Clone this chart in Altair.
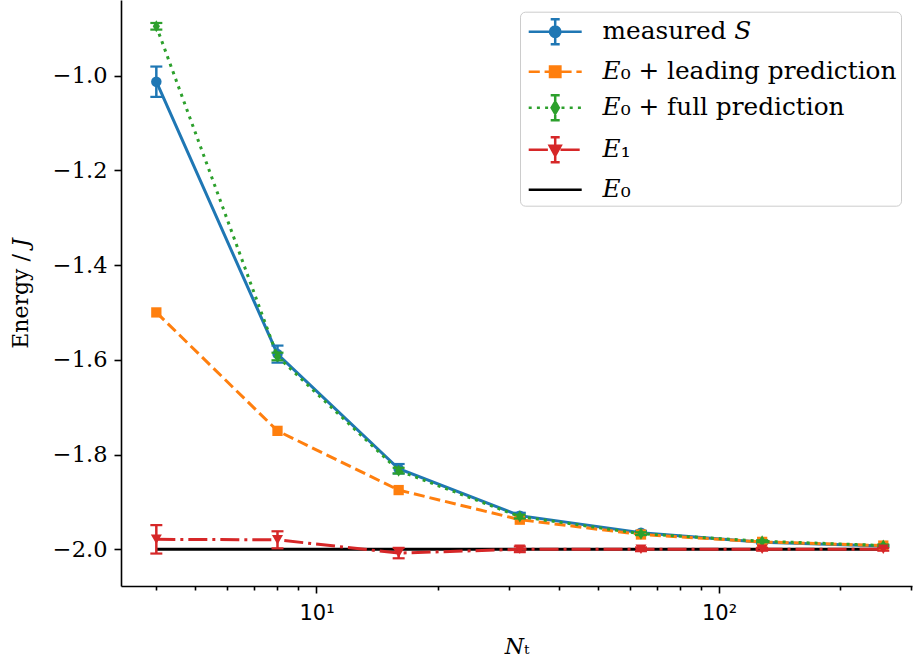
import altair as alt
import pandas as pd

# ---- data -------------------------------------------------------------
N_T = [4, 8, 16, 32, 64, 128, 256]

LABELS = ["measured 𝑆", "𝐸₀ + leading prediction", "𝐸₀ + full prediction", "𝐸₁", "𝐸₀"]
COLORS = ["#1f77b4", "#ff7f0e", "#2ca02c", "#d62728", "#000000"]

MEASURED_S = [-1.013, -1.588, -1.830, -1.929, -1.965, -1.985, -1.993]
MEASURED_S_ERR = [0.032, 0.018, 0.010, 0.006, 0.004, 0.003, 0.002]
LEADING = [-1.5, -1.75, -1.875, -1.9375, -1.96875, -1.984375, -1.9921875]
FULL = [-0.896, -1.593, -1.834, -1.931, -1.967, -1.983, -1.992]
FULL_ERR = [0.007, 0.008, 0.006, 0.004, 0.003, 0.002, 0.002]
E1 = [-1.979, -1.980, -2.008, -2.000, -2.000, -2.000, -2.000]
E1_ERR = [0.030, 0.018, 0.011, 0.006, 0.004, 0.003, 0.003]
E0_N = [4, 256]
E0_LEVEL = [-2.0, -2.0]


def frame(values, errs=None):
    d = pd.DataFrame({"N": N_T, "E": values})
    d["err"] = errs if errs is not None else 0.0
    d["lo"] = d["E"] - d["err"]
    d["hi"] = d["E"] + d["err"]
    return d


# ---- scales & axes ----------------------------------------------------
x_scale = alt.Scale(type="log", domain=[3.268, 301.7], nice=False)
y_scale = alt.Scale(domain=[-2.0775, -0.8405], nice=False, zero=False)

x_axis = alt.Axis(
    values=[4, 5, 6, 7, 8, 9, 10, 20, 30, 40, 50, 60, 70, 80, 90, 100, 200, 300],
    labelExpr="datum.value == 10 ? '10¹' : datum.value == 100 ? '10²' : ''",
    tickSize={"condition": {"test": "datum.value == 10 || datum.value == 100", "value": 7}, "value": 4},
    labelFont="DejaVu Sans", labelFontSize=21, labelPadding=9, labelOverlap=False,
    title="𝑁ₜ", titleFont="DejaVu Serif", titleFontSize=22, titleFontWeight="normal",
    titlePadding=13, grid=False,
)
y_axis = alt.Axis(
    values=[-2.0, -1.8, -1.6, -1.4, -1.2, -1.0],
    labelExpr="replace(format(datum.value, '.1f'), '-', '\u2212')",
    tickSize=7, labelFont="DejaVu Serif", labelFontSize=22.5, labelPadding=7,
    title="Energy / 𝐽", titleFont="DejaVu Serif", titleFontSize=22, titleFontWeight="normal",
    titlePadding=20, grid=False,
)


def xy(yfield="E"):
    return dict(
        x=alt.X("N:Q", scale=x_scale, axis=x_axis),
        y=alt.Y(f"{yfield}:Q", scale=y_scale, axis=y_axis),
    )


def series_layers(d, color, dash, shape, size, with_err):
    base = alt.Chart(d)
    out = []
    if with_err:
        out.append(base.mark_rule(color=color, strokeWidth=2.5).encode(
            x=alt.X("N:Q", scale=x_scale, axis=x_axis),
            y=alt.Y("lo:Q", scale=y_scale, axis=y_axis), y2="hi:Q"))
        for f in ("lo", "hi"):
            out.append(base.mark_tick(orient="horizontal", color=color, size=12, thickness=2.2,
                                      opacity=1).encode(**xy(f)))
    line_kw = dict(color=color, strokeWidth=3)
    if dash:
        line_kw["strokeDash"] = dash
    out.append(base.mark_line(**line_kw).encode(**xy()))
    out.append(base.mark_point(shape=shape, size=size, filled=True, color=color,
                               opacity=1).encode(**xy()))
    return out


THIN_DIAMOND = "M0,-1L0.6,0L0,1L-0.6,0Z"

layers = []
# E0 reference level
layers.append(alt.Chart(pd.DataFrame({"N": E0_N, "E": E0_LEVEL}))
              .mark_line(color="#000000", strokeWidth=3).encode(**xy()))
layers += series_layers(frame(MEASURED_S, MEASURED_S_ERR), COLORS[0], None, "circle", 110, True)
layers += series_layers(frame(LEADING), COLORS[1], [11, 5], "square", 106, False)
layers += series_layers(frame(FULL, FULL_ERR), COLORS[2], [3, 5], THIN_DIAMOND, 144, True)
layers += series_layers(frame(E1, E1_ERR), COLORS[3], [19, 5, 3, 5], "triangle-down", 121, True)

# ---- legend symbols (line + errorbar + marker drawn as one path) -------
U = 14.55     # px per symbol unit
HALF = 26.5   # half length of the legend line in px


def px(v):
    return f"{v / U:.3f}"


def seg(x0, x1):
    return f"M{px(x0 - HALF)},0H{px(x1 - HALF)}"


def pattern(pieces):
    return "".join(seg(a, b) for a, b in pieces)


def errbar(h=12.5, c=4.5):
    return f"M0,{px(-h)}V{px(h)}M{px(-c)},{px(-h)}H{px(c)}M{px(-c)},{px(h)}H{px(c)}"


def circle(r=5.2):
    return f"M{px(-r)},0A{px(r)},{px(r)} 0 1,0 {px(r)},0A{px(r)},{px(r)} 0 1,0 {px(-r)},0Z"


def square(a=5.2):
    return f"M{px(-a)},{px(-a)}H{px(a)}V{px(a)}H{px(-a)}Z"


def diamond(h=6.0, w=3.6):
    return f"M0,{px(-h)}L{px(w)},0L0,{px(h)}L{px(-w)},0Z"


def tri_down(w=5.5, h=5.0):
    return f"M{px(-w)},{px(-0.8 * h)}L{px(w)},{px(-0.8 * h)}L0,{px(1.2 * h)}Z"


SYMBOLS = [
    seg(0, 53) + errbar() + circle(),
    pattern([(0, 11.1), (15.9, 27), (31.8, 42.9), (47.7, 53)]) + square(),
    pattern([(i * 8.2, i * 8.2 + 3) for i in range(7)]) + errbar() + diamond(),
    pattern([(0, 19.2), (24, 27), (31.8, 51)]) + errbar() + tri_down(),
    seg(0, 53),
]

legend = alt.Legend(
    title=None, orient="none", legendX=399, legendY=11.7,
    fillColor="rgba(255,255,255,0.8)", strokeColor="#cccccc", cornerRadius=5,
    padding=4, symbolSize=(2 * U) ** 2, symbolStrokeWidth=2.5, symbolOpacity=1,
    symbolOffset=15.2, labelOffset=31.4, rowPadding=6.0,
    labelFont="DejaVu Serif", labelFontSize=24.75, labelColor="#000000", labelLimit=400,
    labelExpr="datum.label + '\u2002'",
)

legend_layer = (
    alt.Chart(frame(MEASURED_S).assign(series=LABELS[0]))
    .transform_filter("false")
    .mark_point(filled=True, strokeWidth=2.5, opacity=1)
    .encode(
        **xy(),
        fill=alt.Fill("series:N", scale=alt.Scale(domain=LABELS, range=COLORS), legend=legend),
        stroke=alt.Stroke("series:N", scale=alt.Scale(domain=LABELS, range=COLORS), legend=legend),
        shape=alt.Shape("series:N", scale=alt.Scale(domain=LABELS, range=SYMBOLS), legend=legend),
    )
)
layers.append(legend_layer)

chart = (
    alt.layer(*layers)
    .properties(
        width=791, height=586,
        autosize=alt.AutoSizeParams(type="none"),
        padding={"left": 121, "top": 0, "right": 2, "bottom": 78},
        background="white",
    )
    .configure_view(stroke=None)
    .configure_axis(
        domainColor="#000000", domainWidth=1.6, tickColor="#000000", tickWidth=1.6,
        labelColor="#000000", titleColor="#000000",
    )
)

chart.save("out.html", embed_options={"renderer": "svg", "actions": False})
